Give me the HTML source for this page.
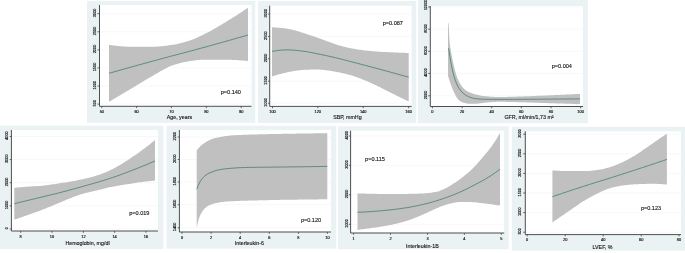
<!DOCTYPE html>
<html lang="en"><head><meta charset="utf-8"><title>Spline plots</title>
<style>html,body{margin:0;padding:0;background:#fff;}body{width:685px;height:253px;overflow:hidden;font-family:"Liberation Sans",sans-serif;}</style>
</head><body>
<svg width="685" height="253" viewBox="0 0 685 253" style="display:block">
<defs><filter id="soft" x="-20%" y="-40%" width="140%" height="180%"><feGaussianBlur stdDeviation="0.22"/></filter></defs>
<rect x="-10" y="-10" width="705" height="273" fill="#fff"/>
<g font-family="'Liberation Sans', sans-serif" fill="#111">
<rect x="87" y="1" width="168.20" height="121.80" fill="#eaf2f3"/>
<rect x="99.5" y="5" width="152.00" height="101.30" fill="#fff"/>
<line x1="99.5" x2="251.5" y1="13.7" y2="13.7" stroke="#f1f4f4" stroke-width="0.6"/>
<line x1="99.5" x2="251.5" y1="31.8" y2="31.8" stroke="#f1f4f4" stroke-width="0.6"/>
<line x1="99.5" x2="251.5" y1="49.9" y2="49.9" stroke="#f1f4f4" stroke-width="0.6"/>
<line x1="99.5" x2="251.5" y1="67.9" y2="67.9" stroke="#f1f4f4" stroke-width="0.6"/>
<line x1="99.5" x2="251.5" y1="86" y2="86" stroke="#f1f4f4" stroke-width="0.6"/>
<line x1="99.5" x2="251.5" y1="104.1" y2="104.1" stroke="#f1f4f4" stroke-width="0.6"/>
<path d="M109.00,44.90 L110.40,45.08 L111.81,45.25 L113.21,45.43 L114.62,45.60 L116.02,45.76 L117.42,45.92 L118.83,46.06 L120.23,46.20 L121.64,46.32 L123.04,46.43 L124.44,46.53 L125.85,46.60 L127.25,46.66 L128.66,46.69 L130.06,46.70 L131.46,46.70 L132.87,46.70 L134.27,46.70 L135.68,46.70 L137.08,46.70 L138.48,46.70 L139.89,46.70 L141.29,46.70 L142.70,46.70 L144.10,46.70 L145.51,46.70 L146.91,46.70 L148.31,46.70 L149.72,46.70 L151.12,46.70 L152.53,46.70 L153.93,46.70 L155.33,46.67 L156.74,46.62 L158.14,46.53 L159.55,46.43 L160.95,46.31 L162.35,46.16 L163.76,46.00 L165.16,45.83 L166.57,45.65 L167.97,45.46 L169.37,45.27 L170.78,45.07 L172.18,44.87 L173.59,44.66 L174.99,44.41 L176.39,44.14 L177.80,43.83 L179.20,43.51 L180.61,43.16 L182.01,42.79 L183.41,42.41 L184.82,42.01 L186.22,41.59 L187.63,41.17 L189.03,40.73 L190.43,40.26 L191.84,39.75 L193.24,39.20 L194.65,38.63 L196.05,38.02 L197.45,37.40 L198.86,36.75 L200.26,36.09 L201.67,35.42 L203.07,34.74 L204.47,34.06 L205.88,33.37 L207.28,32.66 L208.69,31.93 L210.09,31.17 L211.49,30.41 L212.90,29.62 L214.30,28.82 L215.71,28.01 L217.11,27.19 L218.52,26.37 L219.92,25.54 L221.32,24.70 L222.73,23.86 L224.13,23.02 L225.54,22.18 L226.94,21.33 L228.34,20.47 L229.75,19.60 L231.15,18.73 L232.56,17.85 L233.96,16.96 L235.36,16.07 L236.77,15.17 L238.17,14.26 L239.58,13.35 L240.98,12.42 L242.38,11.49 L243.79,10.56 L245.19,9.61 L246.60,8.66 L248.00,7.70 L248.00,60.90 L246.60,60.79 L245.19,60.69 L243.79,60.58 L242.38,60.48 L240.98,60.39 L239.58,60.29 L238.17,60.21 L236.77,60.12 L235.36,60.04 L233.96,59.97 L232.56,59.91 L231.15,59.85 L229.75,59.80 L228.34,59.76 L226.94,59.73 L225.54,59.71 L224.13,59.70 L222.73,59.70 L221.32,59.70 L219.92,59.70 L218.52,59.70 L217.11,59.70 L215.71,59.70 L214.30,59.70 L212.90,59.70 L211.49,59.70 L210.09,59.70 L208.69,59.70 L207.28,59.70 L205.88,59.70 L204.47,59.70 L203.07,59.73 L201.67,59.79 L200.26,59.87 L198.86,59.99 L197.45,60.12 L196.05,60.28 L194.65,60.45 L193.24,60.63 L191.84,60.83 L190.43,61.02 L189.03,61.22 L187.63,61.43 L186.22,61.67 L184.82,61.94 L183.41,62.24 L182.01,62.58 L180.61,62.93 L179.20,63.32 L177.80,63.72 L176.39,64.15 L174.99,64.60 L173.59,65.06 L172.18,65.54 L170.78,66.05 L169.37,66.62 L167.97,67.26 L166.57,67.94 L165.16,68.66 L163.76,69.42 L162.35,70.20 L160.95,71.01 L159.55,71.83 L158.14,72.65 L156.74,73.48 L155.33,74.30 L153.93,75.10 L152.53,75.89 L151.12,76.69 L149.72,77.50 L148.31,78.32 L146.91,79.16 L145.51,79.99 L144.10,80.84 L142.70,81.69 L141.29,82.54 L139.89,83.40 L138.48,84.26 L137.08,85.12 L135.68,85.98 L134.27,86.83 L132.87,87.68 L131.46,88.53 L130.06,89.36 L128.66,90.20 L127.25,91.03 L125.85,91.86 L124.44,92.70 L123.04,93.53 L121.64,94.36 L120.23,95.19 L118.83,96.02 L117.42,96.84 L116.02,97.67 L114.62,98.50 L113.21,99.33 L111.81,100.15 L110.40,100.98 L109.00,101.80Z" fill="#c0c0c0"/>
<path d="M109.00,73.30 L110.40,72.90 L111.81,72.50 L113.21,72.10 L114.62,71.70 L116.02,71.30 L117.42,70.90 L118.83,70.51 L120.23,70.11 L121.64,69.72 L123.04,69.32 L124.44,68.93 L125.85,68.53 L127.25,68.14 L128.66,67.75 L130.06,67.36 L131.46,66.97 L132.87,66.58 L134.27,66.19 L135.68,65.80 L137.08,65.41 L138.48,65.02 L139.89,64.64 L141.29,64.25 L142.70,63.86 L144.10,63.48 L145.51,63.09 L146.91,62.71 L148.31,62.33 L149.72,61.94 L151.12,61.56 L152.53,61.18 L153.93,60.79 L155.33,60.41 L156.74,60.03 L158.14,59.65 L159.55,59.27 L160.95,58.89 L162.35,58.51 L163.76,58.13 L165.16,57.76 L166.57,57.38 L167.97,57.01 L169.37,56.63 L170.78,56.26 L172.18,55.90 L173.59,55.53 L174.99,55.16 L176.39,54.80 L177.80,54.43 L179.20,54.06 L180.61,53.69 L182.01,53.33 L183.41,52.96 L184.82,52.59 L186.22,52.21 L187.63,51.84 L189.03,51.46 L190.43,51.08 L191.84,50.70 L193.24,50.32 L194.65,49.94 L196.05,49.55 L197.45,49.17 L198.86,48.79 L200.26,48.41 L201.67,48.02 L203.07,47.64 L204.47,47.25 L205.88,46.87 L207.28,46.48 L208.69,46.10 L210.09,45.71 L211.49,45.32 L212.90,44.93 L214.30,44.54 L215.71,44.15 L217.11,43.76 L218.52,43.37 L219.92,42.98 L221.32,42.59 L222.73,42.20 L224.13,41.80 L225.54,41.41 L226.94,41.01 L228.34,40.62 L229.75,40.22 L231.15,39.83 L232.56,39.43 L233.96,39.03 L235.36,38.63 L236.77,38.23 L238.17,37.83 L239.58,37.43 L240.98,37.02 L242.38,36.62 L243.79,36.22 L245.19,35.81 L246.60,35.41 L248.00,35.00" fill="none" stroke="#1a675a" stroke-width="0.62"/>
<path d="M99.5,5 V106.3 H251.5" fill="none" stroke="#444" stroke-width="0.95"/>
<line x1="97.40" x2="99.5" y1="13.7" y2="13.7" stroke="#444" stroke-width="0.8"/>
<text transform="translate(95.70,12.80) rotate(-90)" text-anchor="middle" font-size="3.9" stroke="#111" stroke-width="0.16">3000</text>
<line x1="97.40" x2="99.5" y1="31.8" y2="31.8" stroke="#444" stroke-width="0.8"/>
<text transform="translate(95.70,30.90) rotate(-90)" text-anchor="middle" font-size="3.9" stroke="#111" stroke-width="0.16">2500</text>
<line x1="97.40" x2="99.5" y1="49.9" y2="49.9" stroke="#444" stroke-width="0.8"/>
<text transform="translate(95.70,49.00) rotate(-90)" text-anchor="middle" font-size="3.9" stroke="#111" stroke-width="0.16">2000</text>
<line x1="97.40" x2="99.5" y1="67.9" y2="67.9" stroke="#444" stroke-width="0.8"/>
<text transform="translate(95.70,67.00) rotate(-90)" text-anchor="middle" font-size="3.9" stroke="#111" stroke-width="0.16">1500</text>
<line x1="97.40" x2="99.5" y1="86" y2="86" stroke="#444" stroke-width="0.8"/>
<text transform="translate(95.70,85.10) rotate(-90)" text-anchor="middle" font-size="3.9" stroke="#111" stroke-width="0.16">1000</text>
<line x1="97.40" x2="99.5" y1="104.1" y2="104.1" stroke="#444" stroke-width="0.8"/>
<text transform="translate(95.70,103.20) rotate(-90)" text-anchor="middle" font-size="3.9" stroke="#111" stroke-width="0.16">500</text>
<line x1="101.8" x2="101.8" y1="106.3" y2="108.10" stroke="#444" stroke-width="0.8"/>
<text x="101.8" y="112.90" text-anchor="middle" font-size="3.9" stroke="#111" stroke-width="0.16">50</text>
<line x1="136.6" x2="136.6" y1="106.3" y2="108.10" stroke="#444" stroke-width="0.8"/>
<text x="136.6" y="112.90" text-anchor="middle" font-size="3.9" stroke="#111" stroke-width="0.16">60</text>
<line x1="171.4" x2="171.4" y1="106.3" y2="108.10" stroke="#444" stroke-width="0.8"/>
<text x="171.4" y="112.90" text-anchor="middle" font-size="3.9" stroke="#111" stroke-width="0.16">70</text>
<line x1="206.3" x2="206.3" y1="106.3" y2="108.10" stroke="#444" stroke-width="0.8"/>
<text x="206.3" y="112.90" text-anchor="middle" font-size="3.9" stroke="#111" stroke-width="0.16">80</text>
<line x1="241.2" x2="241.2" y1="106.3" y2="108.10" stroke="#444" stroke-width="0.8"/>
<text x="241.2" y="112.90" text-anchor="middle" font-size="3.9" stroke="#111" stroke-width="0.16">90</text>
<text filter="url(#soft)" x="179.4" y="119" text-anchor="middle" font-size="5.3" stroke="#111" stroke-width="0.12">Age, years</text>
<text filter="url(#soft)" x="230.85" y="93.5" text-anchor="middle" font-size="5.55" stroke="#111" stroke-width="0.12">p=0.140</text>
</g>
<g font-family="'Liberation Sans', sans-serif" fill="#111">
<rect x="258" y="1" width="158.20" height="122.00" fill="#eaf2f3"/>
<rect x="269.7" y="5.7" width="141.90" height="100.70" fill="#fff"/>
<line x1="269.7" x2="411.6" y1="14" y2="14" stroke="#f1f4f4" stroke-width="0.6"/>
<line x1="269.7" x2="411.6" y1="36.5" y2="36.5" stroke="#f1f4f4" stroke-width="0.6"/>
<line x1="269.7" x2="411.6" y1="58.8" y2="58.8" stroke="#f1f4f4" stroke-width="0.6"/>
<line x1="269.7" x2="411.6" y1="81.2" y2="81.2" stroke="#f1f4f4" stroke-width="0.6"/>
<line x1="269.7" x2="411.6" y1="103.2" y2="103.2" stroke="#f1f4f4" stroke-width="0.6"/>
<path d="M272.00,27.30 L273.38,27.36 L274.76,27.44 L276.14,27.53 L277.52,27.64 L278.90,27.76 L280.28,27.89 L281.67,28.03 L283.05,28.18 L284.43,28.36 L285.81,28.57 L287.19,28.79 L288.57,29.03 L289.95,29.28 L291.33,29.56 L292.71,29.84 L294.09,30.15 L295.47,30.50 L296.85,30.88 L298.24,31.30 L299.62,31.74 L301.00,32.19 L302.38,32.64 L303.76,33.10 L305.14,33.54 L306.52,33.99 L307.90,34.45 L309.28,34.92 L310.66,35.39 L312.04,35.87 L313.42,36.35 L314.81,36.84 L316.19,37.32 L317.57,37.81 L318.95,38.31 L320.33,38.81 L321.71,39.32 L323.09,39.83 L324.47,40.33 L325.85,40.84 L327.23,41.33 L328.61,41.82 L329.99,42.31 L331.37,42.80 L332.76,43.30 L334.14,43.79 L335.52,44.26 L336.90,44.72 L338.28,45.15 L339.66,45.56 L341.04,45.94 L342.42,46.32 L343.80,46.67 L345.18,47.02 L346.56,47.35 L347.94,47.67 L349.33,47.97 L350.71,48.25 L352.09,48.51 L353.47,48.76 L354.85,49.00 L356.23,49.23 L357.61,49.45 L358.99,49.66 L360.37,49.86 L361.75,50.04 L363.13,50.22 L364.51,50.38 L365.89,50.54 L367.28,50.70 L368.66,50.85 L370.04,50.99 L371.42,51.12 L372.80,51.24 L374.18,51.35 L375.56,51.46 L376.94,51.55 L378.32,51.65 L379.70,51.73 L381.08,51.81 L382.46,51.89 L383.85,51.97 L385.23,52.04 L386.61,52.11 L387.99,52.17 L389.37,52.24 L390.75,52.30 L392.13,52.37 L393.51,52.43 L394.89,52.49 L396.27,52.55 L397.65,52.61 L399.03,52.67 L400.42,52.72 L401.80,52.77 L403.18,52.82 L404.56,52.87 L405.94,52.92 L407.32,52.96 L408.70,53.00 L408.70,101.50 L407.32,100.84 L405.94,100.17 L404.56,99.50 L403.18,98.83 L401.80,98.16 L400.42,97.48 L399.03,96.81 L397.65,96.13 L396.27,95.45 L394.89,94.77 L393.51,94.09 L392.13,93.40 L390.75,92.72 L389.37,92.03 L387.99,91.34 L386.61,90.65 L385.23,89.96 L383.85,89.25 L382.46,88.54 L381.08,87.82 L379.70,87.11 L378.32,86.41 L376.94,85.73 L375.56,85.06 L374.18,84.41 L372.80,83.78 L371.42,83.16 L370.04,82.54 L368.66,81.94 L367.28,81.35 L365.89,80.77 L364.51,80.21 L363.13,79.65 L361.75,79.10 L360.37,78.56 L358.99,78.01 L357.61,77.48 L356.23,76.97 L354.85,76.47 L353.47,76.01 L352.09,75.57 L350.71,75.17 L349.33,74.80 L347.94,74.44 L346.56,74.09 L345.18,73.77 L343.80,73.45 L342.42,73.15 L341.04,72.86 L339.66,72.57 L338.28,72.29 L336.90,72.01 L335.52,71.73 L334.14,71.46 L332.76,71.21 L331.37,70.98 L329.99,70.76 L328.61,70.57 L327.23,70.41 L325.85,70.24 L324.47,70.08 L323.09,69.92 L321.71,69.78 L320.33,69.66 L318.95,69.57 L317.57,69.52 L316.19,69.50 L314.81,69.51 L313.42,69.52 L312.04,69.55 L310.66,69.59 L309.28,69.63 L307.90,69.67 L306.52,69.73 L305.14,69.78 L303.76,69.85 L302.38,69.95 L301.00,70.08 L299.62,70.24 L298.24,70.42 L296.85,70.61 L295.47,70.82 L294.09,71.03 L292.71,71.24 L291.33,71.48 L289.95,71.73 L288.57,72.01 L287.19,72.31 L285.81,72.63 L284.43,72.95 L283.05,73.29 L281.67,73.63 L280.28,73.99 L278.90,74.36 L277.52,74.76 L276.14,75.17 L274.76,75.60 L273.38,76.04 L272.00,76.50Z" fill="#c0c0c0"/>
<path d="M272.00,51.40 L273.38,51.15 L274.76,50.93 L276.14,50.72 L277.52,50.54 L278.90,50.37 L280.28,50.23 L281.67,50.12 L283.05,50.02 L284.43,49.96 L285.81,49.91 L287.19,49.90 L288.57,49.91 L289.95,49.96 L291.33,50.02 L292.71,50.11 L294.09,50.22 L295.47,50.34 L296.85,50.48 L298.24,50.63 L299.62,50.78 L301.00,50.95 L302.38,51.12 L303.76,51.29 L305.14,51.46 L306.52,51.65 L307.90,51.88 L309.28,52.13 L310.66,52.41 L312.04,52.69 L313.42,52.98 L314.81,53.27 L316.19,53.56 L317.57,53.83 L318.95,54.11 L320.33,54.39 L321.71,54.68 L323.09,54.97 L324.47,55.26 L325.85,55.55 L327.23,55.85 L328.61,56.15 L329.99,56.46 L331.37,56.77 L332.76,57.08 L334.14,57.40 L335.52,57.72 L336.90,58.05 L338.28,58.39 L339.66,58.73 L341.04,59.08 L342.42,59.44 L343.80,59.79 L345.18,60.15 L346.56,60.51 L347.94,60.87 L349.33,61.24 L350.71,61.59 L352.09,61.95 L353.47,62.31 L354.85,62.66 L356.23,63.02 L357.61,63.38 L358.99,63.74 L360.37,64.10 L361.75,64.46 L363.13,64.82 L364.51,65.18 L365.89,65.54 L367.28,65.90 L368.66,66.27 L370.04,66.63 L371.42,67.00 L372.80,67.37 L374.18,67.73 L375.56,68.10 L376.94,68.47 L378.32,68.84 L379.70,69.22 L381.08,69.59 L382.46,69.96 L383.85,70.34 L385.23,70.71 L386.61,71.09 L387.99,71.46 L389.37,71.84 L390.75,72.22 L392.13,72.59 L393.51,72.97 L394.89,73.35 L396.27,73.73 L397.65,74.12 L399.03,74.50 L400.42,74.88 L401.80,75.27 L403.18,75.65 L404.56,76.04 L405.94,76.42 L407.32,76.81 L408.70,77.20" fill="none" stroke="#1a675a" stroke-width="0.62"/>
<path d="M269.7,5.7 V106.4 H411.6" fill="none" stroke="#444" stroke-width="0.95"/>
<line x1="268.00" x2="269.7" y1="14" y2="14" stroke="#444" stroke-width="0.8"/>
<text transform="translate(266.50,13.10) rotate(-90)" text-anchor="middle" font-size="3.9" stroke="#111" stroke-width="0.16">3000</text>
<line x1="268.00" x2="269.7" y1="36.5" y2="36.5" stroke="#444" stroke-width="0.8"/>
<text transform="translate(266.50,35.60) rotate(-90)" text-anchor="middle" font-size="3.9" stroke="#111" stroke-width="0.16">2500</text>
<line x1="268.00" x2="269.7" y1="58.8" y2="58.8" stroke="#444" stroke-width="0.8"/>
<text transform="translate(266.50,57.90) rotate(-90)" text-anchor="middle" font-size="3.9" stroke="#111" stroke-width="0.16">2000</text>
<line x1="268.00" x2="269.7" y1="81.2" y2="81.2" stroke="#444" stroke-width="0.8"/>
<text transform="translate(266.50,80.30) rotate(-90)" text-anchor="middle" font-size="3.9" stroke="#111" stroke-width="0.16">1500</text>
<line x1="268.00" x2="269.7" y1="103.2" y2="103.2" stroke="#444" stroke-width="0.8"/>
<text transform="translate(266.50,102.30) rotate(-90)" text-anchor="middle" font-size="3.9" stroke="#111" stroke-width="0.16">1000</text>
<line x1="272.5" x2="272.5" y1="106.4" y2="108.20" stroke="#444" stroke-width="0.8"/>
<text x="272.5" y="113.00" text-anchor="middle" font-size="3.9" stroke="#111" stroke-width="0.16">100</text>
<line x1="317.8" x2="317.8" y1="106.4" y2="108.20" stroke="#444" stroke-width="0.8"/>
<text x="317.8" y="113.00" text-anchor="middle" font-size="3.9" stroke="#111" stroke-width="0.16">120</text>
<line x1="363.2" x2="363.2" y1="106.4" y2="108.20" stroke="#444" stroke-width="0.8"/>
<text x="363.2" y="113.00" text-anchor="middle" font-size="3.9" stroke="#111" stroke-width="0.16">140</text>
<line x1="408.6" x2="408.6" y1="106.4" y2="108.20" stroke="#444" stroke-width="0.8"/>
<text x="408.6" y="113.00" text-anchor="middle" font-size="3.9" stroke="#111" stroke-width="0.16">160</text>
<text filter="url(#soft)" x="347.4" y="118.9" text-anchor="middle" font-size="5.3" stroke="#111" stroke-width="0.12">SBP, mmHg</text>
<text filter="url(#soft)" x="392.8" y="24.5" text-anchor="middle" font-size="5.55" stroke="#111" stroke-width="0.12">p=0.087</text>
</g>
<g font-family="'Liberation Sans', sans-serif" fill="#111">
<rect x="418" y="-6" width="169.80" height="129.30" fill="#eaf2f3"/>
<rect x="430.3" y="6" width="152.70" height="100.50" fill="#fff"/>
<line x1="430.3" x2="583" y1="7" y2="7" stroke="#f1f4f4" stroke-width="0.6"/>
<line x1="430.3" x2="583" y1="29.2" y2="29.2" stroke="#f1f4f4" stroke-width="0.6"/>
<line x1="430.3" x2="583" y1="51.3" y2="51.3" stroke="#f1f4f4" stroke-width="0.6"/>
<line x1="430.3" x2="583" y1="73.4" y2="73.4" stroke="#f1f4f4" stroke-width="0.6"/>
<line x1="430.3" x2="583" y1="95.8" y2="95.8" stroke="#f1f4f4" stroke-width="0.6"/>
<path d="M448.00,24.00 L448.50,22.20 L448.50,22.20 L449.61,42.07 L450.71,50.36 L451.82,56.05 L452.92,61.65 L454.03,66.67 L455.13,70.97 L456.24,74.71 L457.34,77.90 L458.45,80.50 L459.55,82.71 L460.66,84.54 L461.76,86.13 L462.87,87.55 L463.97,88.74 L465.08,89.67 L466.18,90.46 L467.29,91.15 L468.39,91.76 L469.50,92.29 L470.60,92.77 L471.71,93.20 L472.81,93.60 L473.92,93.97 L475.02,94.30 L476.13,94.59 L477.23,94.85 L478.34,95.09 L479.44,95.31 L480.55,95.52 L481.65,95.72 L482.76,95.89 L483.86,96.04 L484.97,96.16 L486.07,96.26 L487.18,96.36 L488.28,96.45 L489.39,96.54 L490.49,96.63 L491.60,96.70 L492.70,96.78 L493.81,96.84 L494.91,96.90 L496.02,96.94 L497.12,96.97 L498.23,96.99 L499.33,97.00 L500.44,97.00 L501.54,96.99 L502.65,96.98 L503.75,96.96 L504.86,96.94 L505.96,96.92 L507.07,96.90 L508.17,96.87 L509.28,96.84 L510.38,96.81 L511.49,96.77 L512.59,96.74 L513.70,96.70 L514.80,96.67 L515.91,96.63 L517.01,96.59 L518.12,96.56 L519.22,96.52 L520.33,96.49 L521.43,96.46 L522.54,96.42 L523.64,96.38 L524.75,96.35 L525.85,96.31 L526.96,96.27 L528.06,96.23 L529.17,96.18 L530.27,96.14 L531.38,96.10 L532.48,96.05 L533.59,96.01 L534.69,95.96 L535.80,95.92 L536.90,95.87 L538.01,95.82 L539.11,95.78 L540.22,95.73 L541.32,95.68 L542.43,95.63 L543.53,95.58 L544.64,95.53 L545.74,95.49 L546.85,95.44 L547.95,95.39 L549.06,95.34 L550.16,95.29 L551.27,95.25 L552.37,95.20 L553.48,95.15 L554.58,95.10 L555.69,95.05 L556.79,95.00 L557.90,94.95 L559.00,94.90 L560.11,94.85 L561.21,94.80 L562.32,94.75 L563.42,94.70 L564.53,94.65 L565.63,94.60 L566.74,94.54 L567.84,94.49 L568.95,94.44 L570.05,94.39 L571.16,94.33 L572.26,94.28 L573.37,94.23 L574.47,94.17 L575.58,94.12 L576.68,94.06 L577.79,94.01 L578.89,93.96 L580.00,93.90 L580.00,104.10 L578.89,104.07 L577.78,104.04 L576.67,104.01 L575.56,103.97 L574.45,103.94 L573.34,103.91 L572.24,103.88 L571.13,103.84 L570.02,103.81 L568.91,103.78 L567.80,103.75 L566.69,103.71 L565.58,103.68 L564.47,103.65 L563.36,103.61 L562.25,103.58 L561.14,103.55 L560.03,103.51 L558.92,103.48 L557.82,103.44 L556.71,103.41 L555.60,103.38 L554.49,103.34 L553.38,103.31 L552.27,103.27 L551.16,103.24 L550.05,103.20 L548.94,103.17 L547.83,103.13 L546.72,103.09 L545.61,103.05 L544.50,103.02 L543.39,102.98 L542.29,102.94 L541.18,102.90 L540.07,102.86 L538.96,102.82 L537.85,102.78 L536.74,102.73 L535.63,102.69 L534.52,102.65 L533.41,102.61 L532.30,102.58 L531.19,102.54 L530.08,102.50 L528.97,102.46 L527.87,102.43 L526.76,102.39 L525.65,102.36 L524.54,102.32 L523.43,102.29 L522.32,102.26 L521.21,102.23 L520.10,102.20 L518.99,102.18 L517.88,102.15 L516.77,102.12 L515.66,102.09 L514.55,102.06 L513.45,102.03 L512.34,102.00 L511.23,101.98 L510.12,101.95 L509.01,101.92 L507.90,101.90 L506.79,101.88 L505.68,101.86 L504.57,101.84 L503.46,101.83 L502.35,101.81 L501.24,101.81 L500.13,101.80 L499.03,101.80 L497.92,101.81 L496.81,101.84 L495.70,101.88 L494.59,101.93 L493.48,101.99 L492.37,102.06 L491.26,102.14 L490.15,102.22 L489.04,102.31 L487.93,102.40 L486.82,102.49 L485.71,102.58 L484.61,102.67 L483.50,102.81 L482.39,102.96 L481.28,103.13 L480.17,103.30 L479.06,103.45 L477.95,103.58 L476.84,103.67 L475.73,103.70 L474.62,103.70 L473.51,103.70 L472.40,103.70 L471.29,103.70 L470.18,103.70 L469.08,103.70 L467.97,103.67 L466.86,103.52 L465.75,103.30 L464.64,103.01 L463.53,102.70 L462.42,102.33 L461.31,101.83 L460.20,101.19 L459.09,100.39 L457.98,99.24 L456.87,97.69 L455.76,95.90 L454.66,93.73 L453.55,91.30 L452.44,88.65 L451.33,85.74 L450.22,82.68 L449.11,79.43 L448.00,76.00Z" fill="#c0c0c0"/>
<path d="M448.60,48.30 L449.93,56.99 L451.25,64.40 L452.58,70.86 L453.91,76.06 L455.24,80.23 L456.56,83.62 L457.89,86.44 L459.22,88.67 L460.55,90.46 L461.87,91.96 L463.20,93.20 L464.53,94.26 L465.85,95.21 L467.18,96.03 L468.51,96.68 L469.84,97.19 L471.16,97.66 L472.49,98.07 L473.82,98.39 L475.15,98.63 L476.47,98.78 L477.80,98.90 L479.13,99.01 L480.45,99.10 L481.78,99.18 L483.11,99.24 L484.44,99.28 L485.76,99.30 L487.09,99.32 L488.42,99.34 L489.75,99.35 L491.07,99.36 L492.40,99.37 L493.73,99.38 L495.05,99.39 L496.38,99.40 L497.71,99.40 L499.04,99.40 L500.36,99.40 L501.69,99.40 L503.02,99.40 L504.35,99.39 L505.67,99.39 L507.00,99.39 L508.33,99.38 L509.65,99.38 L510.98,99.37 L512.31,99.37 L513.64,99.36 L514.96,99.35 L516.29,99.35 L517.62,99.34 L518.95,99.33 L520.27,99.32 L521.60,99.31 L522.93,99.30 L524.25,99.29 L525.58,99.28 L526.91,99.27 L528.24,99.26 L529.56,99.25 L530.89,99.24 L532.22,99.23 L533.55,99.22 L534.87,99.21 L536.20,99.20 L537.53,99.19 L538.85,99.18 L540.18,99.17 L541.51,99.16 L542.84,99.15 L544.16,99.14 L545.49,99.13 L546.82,99.12 L548.15,99.11 L549.47,99.10 L550.80,99.09 L552.13,99.09 L553.45,99.08 L554.78,99.07 L556.11,99.06 L557.44,99.05 L558.76,99.04 L560.09,99.03 L561.42,99.03 L562.75,99.02 L564.07,99.01 L565.40,99.00 L566.73,98.99 L568.05,98.98 L569.38,98.97 L570.71,98.96 L572.04,98.95 L573.36,98.95 L574.69,98.94 L576.02,98.93 L577.35,98.92 L578.67,98.91 L580.00,98.90" fill="none" stroke="#1a675a" stroke-width="0.62"/>
<path d="M430.3,6 V106.5 H583" fill="none" stroke="#444" stroke-width="0.95"/>
<line x1="428.20" x2="430.3" y1="7" y2="7" stroke="#444" stroke-width="0.8"/>
<text transform="translate(426.50,4.90) rotate(-90)" text-anchor="middle" font-size="3.9" stroke="#111" stroke-width="0.16">10000</text>
<line x1="428.20" x2="430.3" y1="29.2" y2="29.2" stroke="#444" stroke-width="0.8"/>
<text transform="translate(426.50,28.30) rotate(-90)" text-anchor="middle" font-size="3.9" stroke="#111" stroke-width="0.16">8000</text>
<line x1="428.20" x2="430.3" y1="51.3" y2="51.3" stroke="#444" stroke-width="0.8"/>
<text transform="translate(426.50,50.40) rotate(-90)" text-anchor="middle" font-size="3.9" stroke="#111" stroke-width="0.16">6000</text>
<line x1="428.20" x2="430.3" y1="73.4" y2="73.4" stroke="#444" stroke-width="0.8"/>
<text transform="translate(426.50,72.50) rotate(-90)" text-anchor="middle" font-size="3.9" stroke="#111" stroke-width="0.16">4000</text>
<line x1="428.20" x2="430.3" y1="95.8" y2="95.8" stroke="#444" stroke-width="0.8"/>
<text transform="translate(426.50,94.90) rotate(-90)" text-anchor="middle" font-size="3.9" stroke="#111" stroke-width="0.16">2000</text>
<line x1="432.4" x2="432.4" y1="106.5" y2="108.30" stroke="#444" stroke-width="0.8"/>
<text x="432.4" y="113.10" text-anchor="middle" font-size="3.9" stroke="#111" stroke-width="0.16">0</text>
<line x1="462.1" x2="462.1" y1="106.5" y2="108.30" stroke="#444" stroke-width="0.8"/>
<text x="462.1" y="113.10" text-anchor="middle" font-size="3.9" stroke="#111" stroke-width="0.16">20</text>
<line x1="491.7" x2="491.7" y1="106.5" y2="108.30" stroke="#444" stroke-width="0.8"/>
<text x="491.7" y="113.10" text-anchor="middle" font-size="3.9" stroke="#111" stroke-width="0.16">40</text>
<line x1="521.3" x2="521.3" y1="106.5" y2="108.30" stroke="#444" stroke-width="0.8"/>
<text x="521.3" y="113.10" text-anchor="middle" font-size="3.9" stroke="#111" stroke-width="0.16">60</text>
<line x1="551" x2="551" y1="106.5" y2="108.30" stroke="#444" stroke-width="0.8"/>
<text x="551" y="113.10" text-anchor="middle" font-size="3.9" stroke="#111" stroke-width="0.16">80</text>
<line x1="580.6" x2="580.6" y1="106.5" y2="108.30" stroke="#444" stroke-width="0.8"/>
<text x="580.6" y="113.10" text-anchor="middle" font-size="3.9" stroke="#111" stroke-width="0.16">100</text>
<text filter="url(#soft)" x="529" y="118.9" text-anchor="middle" font-size="5.3" stroke="#111" stroke-width="0.12">GFR, ml/min/1,73 m²</text>
<text filter="url(#soft)" x="561.8" y="67.6" text-anchor="middle" font-size="5.55" stroke="#111" stroke-width="0.12">p=0.004</text>
</g>
<g font-family="'Liberation Sans', sans-serif" fill="#111">
<rect x="-6" y="125.7" width="169.30" height="123.10" fill="#eaf2f3"/>
<rect x="11.4" y="130" width="146.60" height="101.00" fill="#fff"/>
<line x1="11.4" x2="158" y1="136.5" y2="136.5" stroke="#f1f4f4" stroke-width="0.6"/>
<line x1="11.4" x2="158" y1="159.6" y2="159.6" stroke="#f1f4f4" stroke-width="0.6"/>
<line x1="11.4" x2="158" y1="182.7" y2="182.7" stroke="#f1f4f4" stroke-width="0.6"/>
<line x1="11.4" x2="158" y1="205.8" y2="205.8" stroke="#f1f4f4" stroke-width="0.6"/>
<line x1="11.4" x2="158" y1="229" y2="229" stroke="#f1f4f4" stroke-width="0.6"/>
<path d="M14.30,187.80 L15.72,187.67 L17.14,187.53 L18.56,187.40 L19.98,187.28 L21.41,187.16 L22.83,187.04 L24.25,186.92 L25.67,186.81 L27.09,186.70 L28.51,186.59 L29.93,186.49 L31.35,186.40 L32.78,186.32 L34.20,186.24 L35.62,186.16 L37.04,186.08 L38.46,185.99 L39.88,185.90 L41.30,185.79 L42.72,185.67 L44.15,185.53 L45.57,185.37 L46.99,185.19 L48.41,184.99 L49.83,184.79 L51.25,184.58 L52.67,184.36 L54.09,184.14 L55.52,183.93 L56.94,183.72 L58.36,183.51 L59.78,183.30 L61.20,183.09 L62.62,182.87 L64.04,182.65 L65.46,182.43 L66.88,182.20 L68.31,181.96 L69.73,181.72 L71.15,181.47 L72.57,181.21 L73.99,180.94 L75.41,180.67 L76.83,180.39 L78.25,180.10 L79.68,179.81 L81.10,179.51 L82.52,179.21 L83.94,178.91 L85.36,178.60 L86.78,178.28 L88.20,177.95 L89.62,177.60 L91.05,177.23 L92.47,176.84 L93.89,176.44 L95.31,176.02 L96.73,175.58 L98.15,175.12 L99.57,174.63 L100.99,174.11 L102.42,173.57 L103.84,173.00 L105.26,172.41 L106.68,171.80 L108.10,171.17 L109.52,170.52 L110.94,169.85 L112.36,169.14 L113.78,168.40 L115.21,167.63 L116.63,166.84 L118.05,166.03 L119.47,165.21 L120.89,164.38 L122.31,163.52 L123.73,162.64 L125.15,161.75 L126.58,160.84 L128.00,159.91 L129.42,158.98 L130.84,158.04 L132.26,157.09 L133.68,156.12 L135.10,155.13 L136.52,154.13 L137.95,153.13 L139.37,152.13 L140.79,151.11 L142.21,150.08 L143.63,149.03 L145.05,147.96 L146.47,146.87 L147.89,145.77 L149.32,144.65 L150.74,143.51 L152.16,142.36 L153.58,141.19 L155.00,140.00 L155.00,180.60 L153.58,180.72 L152.16,180.85 L150.74,180.99 L149.32,181.13 L147.89,181.29 L146.47,181.45 L145.05,181.62 L143.63,181.79 L142.21,181.97 L140.79,182.15 L139.37,182.34 L137.95,182.54 L136.52,182.75 L135.10,182.98 L133.68,183.22 L132.26,183.47 L130.84,183.71 L129.42,183.94 L128.00,184.14 L126.58,184.34 L125.15,184.53 L123.73,184.72 L122.31,184.92 L120.89,185.15 L119.47,185.38 L118.05,185.63 L116.63,185.88 L115.21,186.15 L113.78,186.43 L112.36,186.71 L110.94,187.00 L109.52,187.30 L108.10,187.62 L106.68,187.96 L105.26,188.31 L103.84,188.67 L102.42,189.04 L100.99,189.41 L99.57,189.77 L98.15,190.12 L96.73,190.46 L95.31,190.79 L93.89,191.11 L92.47,191.43 L91.05,191.75 L89.62,192.09 L88.20,192.43 L86.78,192.77 L85.36,193.12 L83.94,193.49 L82.52,193.88 L81.10,194.30 L79.68,194.76 L78.25,195.25 L76.83,195.75 L75.41,196.28 L73.99,196.82 L72.57,197.36 L71.15,197.91 L69.73,198.46 L68.31,199.02 L66.88,199.60 L65.46,200.19 L64.04,200.78 L62.62,201.38 L61.20,201.99 L59.78,202.59 L58.36,203.19 L56.94,203.78 L55.52,204.36 L54.09,204.95 L52.67,205.54 L51.25,206.13 L49.83,206.71 L48.41,207.30 L46.99,207.87 L45.57,208.45 L44.15,209.02 L42.72,209.57 L41.30,210.12 L39.88,210.67 L38.46,211.21 L37.04,211.75 L35.62,212.28 L34.20,212.81 L32.78,213.33 L31.35,213.85 L29.93,214.36 L28.51,214.86 L27.09,215.36 L25.67,215.85 L24.25,216.34 L22.83,216.82 L21.41,217.30 L19.98,217.77 L18.56,218.23 L17.14,218.70 L15.72,219.15 L14.30,219.60Z" fill="#c0c0c0"/>
<path d="M14.30,203.70 L15.72,203.36 L17.14,203.01 L18.56,202.67 L19.98,202.33 L21.41,201.98 L22.83,201.64 L24.25,201.29 L25.67,200.95 L27.09,200.60 L28.51,200.26 L29.93,199.92 L31.35,199.57 L32.78,199.23 L34.20,198.88 L35.62,198.54 L37.04,198.19 L38.46,197.85 L39.88,197.50 L41.30,197.16 L42.72,196.82 L44.15,196.48 L45.57,196.14 L46.99,195.80 L48.41,195.46 L49.83,195.12 L51.25,194.78 L52.67,194.43 L54.09,194.08 L55.52,193.73 L56.94,193.38 L58.36,193.02 L59.78,192.66 L61.20,192.29 L62.62,191.92 L64.04,191.55 L65.46,191.18 L66.88,190.80 L68.31,190.42 L69.73,190.04 L71.15,189.65 L72.57,189.26 L73.99,188.88 L75.41,188.48 L76.83,188.09 L78.25,187.70 L79.68,187.30 L81.10,186.90 L82.52,186.50 L83.94,186.10 L85.36,185.70 L86.78,185.30 L88.20,184.89 L89.62,184.49 L91.05,184.09 L92.47,183.68 L93.89,183.28 L95.31,182.87 L96.73,182.46 L98.15,182.05 L99.57,181.63 L100.99,181.21 L102.42,180.78 L103.84,180.35 L105.26,179.91 L106.68,179.47 L108.10,179.01 L109.52,178.56 L110.94,178.09 L112.36,177.61 L113.78,177.13 L115.21,176.64 L116.63,176.14 L118.05,175.63 L119.47,175.12 L120.89,174.60 L122.31,174.07 L123.73,173.54 L125.15,173.01 L126.58,172.47 L128.00,171.93 L129.42,171.39 L130.84,170.85 L132.26,170.30 L133.68,169.75 L135.10,169.20 L136.52,168.64 L137.95,168.07 L139.37,167.51 L140.79,166.94 L142.21,166.36 L143.63,165.78 L145.05,165.20 L146.47,164.61 L147.89,164.02 L149.32,163.42 L150.74,162.82 L152.16,162.22 L153.58,161.61 L155.00,161.00" fill="none" stroke="#1a675a" stroke-width="0.62"/>
<path d="M11.4,130 V231 H158" fill="none" stroke="#444" stroke-width="0.95"/>
<line x1="9.70" x2="11.4" y1="136.5" y2="136.5" stroke="#444" stroke-width="0.8"/>
<text transform="translate(8.40,135.60) rotate(-90)" text-anchor="middle" font-size="3.9" stroke="#111" stroke-width="0.16">4000</text>
<line x1="9.70" x2="11.4" y1="159.6" y2="159.6" stroke="#444" stroke-width="0.8"/>
<text transform="translate(8.40,158.70) rotate(-90)" text-anchor="middle" font-size="3.9" stroke="#111" stroke-width="0.16">3000</text>
<line x1="9.70" x2="11.4" y1="182.7" y2="182.7" stroke="#444" stroke-width="0.8"/>
<text transform="translate(8.40,181.80) rotate(-90)" text-anchor="middle" font-size="3.9" stroke="#111" stroke-width="0.16">2000</text>
<line x1="9.70" x2="11.4" y1="205.8" y2="205.8" stroke="#444" stroke-width="0.8"/>
<text transform="translate(8.40,204.90) rotate(-90)" text-anchor="middle" font-size="3.9" stroke="#111" stroke-width="0.16">1000</text>
<line x1="9.70" x2="11.4" y1="229" y2="229" stroke="#444" stroke-width="0.8"/>
<text transform="translate(8.40,228.10) rotate(-90)" text-anchor="middle" font-size="3.9" stroke="#111" stroke-width="0.16">0</text>
<line x1="20.7" x2="20.7" y1="231" y2="232.80" stroke="#444" stroke-width="0.8"/>
<text x="20.7" y="237.60" text-anchor="middle" font-size="3.9" stroke="#111" stroke-width="0.16">8</text>
<line x1="52" x2="52" y1="231" y2="232.80" stroke="#444" stroke-width="0.8"/>
<text x="52" y="237.60" text-anchor="middle" font-size="3.9" stroke="#111" stroke-width="0.16">10</text>
<line x1="83.4" x2="83.4" y1="231" y2="232.80" stroke="#444" stroke-width="0.8"/>
<text x="83.4" y="237.60" text-anchor="middle" font-size="3.9" stroke="#111" stroke-width="0.16">12</text>
<line x1="114.6" x2="114.6" y1="231" y2="232.80" stroke="#444" stroke-width="0.8"/>
<text x="114.6" y="237.60" text-anchor="middle" font-size="3.9" stroke="#111" stroke-width="0.16">14</text>
<line x1="145.9" x2="145.9" y1="231" y2="232.80" stroke="#444" stroke-width="0.8"/>
<text x="145.9" y="237.60" text-anchor="middle" font-size="3.9" stroke="#111" stroke-width="0.16">16</text>
<text filter="url(#soft)" x="87.5" y="244.7" text-anchor="middle" font-size="5.3" stroke="#111" stroke-width="0.12">Hemoglobin, mg/dl</text>
<text filter="url(#soft)" x="139.35" y="214.9" text-anchor="middle" font-size="5.55" stroke="#111" stroke-width="0.12">p=0.019</text>
</g>
<g font-family="'Liberation Sans', sans-serif" fill="#111">
<rect x="166.6" y="125.7" width="169.60" height="122.90" fill="#eaf2f3"/>
<rect x="179.4" y="130" width="151.60" height="102.00" fill="#fff"/>
<line x1="179.4" x2="331" y1="137" y2="137" stroke="#f1f4f4" stroke-width="0.6"/>
<line x1="179.4" x2="331" y1="159.5" y2="159.5" stroke="#f1f4f4" stroke-width="0.6"/>
<line x1="179.4" x2="331" y1="182" y2="182" stroke="#f1f4f4" stroke-width="0.6"/>
<line x1="179.4" x2="331" y1="204.7" y2="204.7" stroke="#f1f4f4" stroke-width="0.6"/>
<line x1="179.4" x2="331" y1="227.8" y2="227.8" stroke="#f1f4f4" stroke-width="0.6"/>
<path d="M196.70,150.50 L198.02,148.80 L199.34,147.27 L200.66,145.94 L201.98,144.80 L203.30,143.79 L204.62,142.89 L205.93,142.08 L207.25,141.30 L208.57,140.58 L209.89,139.91 L211.21,139.33 L212.53,138.86 L213.85,138.45 L215.17,138.08 L216.49,137.74 L217.81,137.44 L219.13,137.16 L220.45,136.91 L221.76,136.69 L223.08,136.48 L224.40,136.28 L225.72,136.09 L227.04,135.92 L228.36,135.76 L229.68,135.61 L231.00,135.48 L232.32,135.37 L233.64,135.29 L234.96,135.21 L236.28,135.13 L237.59,135.07 L238.91,135.00 L240.23,134.94 L241.55,134.88 L242.87,134.83 L244.19,134.78 L245.51,134.73 L246.83,134.69 L248.15,134.65 L249.47,134.61 L250.79,134.57 L252.11,134.53 L253.43,134.49 L254.74,134.46 L256.06,134.42 L257.38,134.38 L258.70,134.35 L260.02,134.32 L261.34,134.28 L262.66,134.25 L263.98,134.22 L265.30,134.19 L266.62,134.16 L267.94,134.13 L269.26,134.11 L270.57,134.08 L271.89,134.05 L273.21,134.03 L274.53,134.00 L275.85,133.98 L277.17,133.95 L278.49,133.93 L279.81,133.90 L281.13,133.88 L282.45,133.86 L283.77,133.83 L285.09,133.81 L286.41,133.79 L287.72,133.77 L289.04,133.75 L290.36,133.72 L291.68,133.70 L293.00,133.68 L294.32,133.66 L295.64,133.64 L296.96,133.62 L298.28,133.60 L299.60,133.57 L300.92,133.55 L302.24,133.53 L303.55,133.51 L304.87,133.49 L306.19,133.47 L307.51,133.46 L308.83,133.44 L310.15,133.42 L311.47,133.40 L312.79,133.38 L314.11,133.36 L315.43,133.35 L316.75,133.33 L318.07,133.31 L319.38,133.29 L320.70,133.28 L322.02,133.26 L323.34,133.25 L324.66,133.23 L325.98,133.21 L327.30,133.20 L327.30,199.30 L325.98,199.31 L324.66,199.32 L323.34,199.33 L322.02,199.34 L320.70,199.35 L319.38,199.36 L318.07,199.38 L316.75,199.39 L315.43,199.40 L314.11,199.42 L312.79,199.43 L311.47,199.44 L310.15,199.46 L308.83,199.47 L307.51,199.49 L306.19,199.51 L304.87,199.52 L303.55,199.54 L302.24,199.56 L300.92,199.57 L299.60,199.59 L298.28,199.61 L296.96,199.63 L295.64,199.65 L294.32,199.66 L293.00,199.68 L291.68,199.70 L290.36,199.72 L289.04,199.74 L287.72,199.76 L286.41,199.78 L285.09,199.80 L283.77,199.83 L282.45,199.85 L281.13,199.87 L279.81,199.90 L278.49,199.92 L277.17,199.94 L275.85,199.97 L274.53,200.00 L273.21,200.02 L271.89,200.05 L270.57,200.08 L269.26,200.10 L267.94,200.13 L266.62,200.16 L265.30,200.19 L263.98,200.22 L262.66,200.25 L261.34,200.29 L260.02,200.32 L258.70,200.35 L257.38,200.38 L256.06,200.42 L254.74,200.45 L253.43,200.49 L252.11,200.52 L250.79,200.55 L249.47,200.59 L248.15,200.62 L246.83,200.66 L245.51,200.70 L244.19,200.74 L242.87,200.78 L241.55,200.82 L240.23,200.87 L238.91,200.92 L237.59,200.97 L236.28,201.02 L234.96,201.08 L233.64,201.14 L232.32,201.20 L231.00,201.27 L229.68,201.34 L228.36,201.42 L227.04,201.51 L225.72,201.62 L224.40,201.75 L223.08,201.90 L221.76,202.06 L220.45,202.25 L219.13,202.44 L217.81,202.66 L216.49,202.90 L215.17,203.18 L213.85,203.53 L212.53,203.94 L211.21,204.41 L209.89,204.95 L208.57,205.61 L207.25,206.44 L205.93,207.43 L204.62,208.60 L203.30,210.02 L201.98,211.94 L200.66,214.28 L199.34,217.22 L198.02,221.44 L196.70,228.20Z" fill="#c0c0c0"/>
<path d="M196.80,189.30 L198.12,185.74 L199.44,182.93 L200.75,180.62 L202.07,178.80 L203.39,177.27 L204.71,175.99 L206.03,174.97 L207.35,174.13 L208.66,173.40 L209.98,172.76 L211.30,172.20 L212.62,171.69 L213.94,171.21 L215.25,170.78 L216.57,170.39 L217.89,170.07 L219.21,169.79 L220.53,169.54 L221.85,169.31 L223.16,169.11 L224.48,168.93 L225.80,168.77 L227.12,168.64 L228.44,168.52 L229.75,168.40 L231.07,168.29 L232.39,168.18 L233.71,168.08 L235.03,167.98 L236.35,167.90 L237.66,167.82 L238.98,167.74 L240.30,167.67 L241.62,167.61 L242.94,167.56 L244.25,167.52 L245.57,167.49 L246.89,167.46 L248.21,167.43 L249.53,167.41 L250.85,167.38 L252.16,167.36 L253.48,167.35 L254.80,167.33 L256.12,167.31 L257.44,167.29 L258.75,167.27 L260.07,167.26 L261.39,167.24 L262.71,167.22 L264.03,167.21 L265.35,167.19 L266.66,167.18 L267.98,167.16 L269.30,167.15 L270.62,167.13 L271.94,167.12 L273.25,167.10 L274.57,167.09 L275.89,167.08 L277.21,167.06 L278.53,167.05 L279.85,167.04 L281.16,167.02 L282.48,167.01 L283.80,166.99 L285.12,166.98 L286.44,166.96 L287.75,166.95 L289.07,166.93 L290.39,166.92 L291.71,166.90 L293.03,166.88 L294.35,166.87 L295.66,166.85 L296.98,166.83 L298.30,166.82 L299.62,166.80 L300.94,166.78 L302.25,166.76 L303.57,166.75 L304.89,166.73 L306.21,166.71 L307.53,166.69 L308.85,166.67 L310.16,166.65 L311.48,166.64 L312.80,166.62 L314.12,166.60 L315.44,166.58 L316.75,166.56 L318.07,166.54 L319.39,166.52 L320.71,166.50 L322.03,166.48 L323.35,166.46 L324.66,166.44 L325.98,166.42 L327.30,166.40" fill="none" stroke="#1a675a" stroke-width="0.62"/>
<path d="M179.4,130 V232 H331" fill="none" stroke="#444" stroke-width="0.95"/>
<line x1="177.70" x2="179.4" y1="137" y2="137" stroke="#444" stroke-width="0.8"/>
<text transform="translate(176.20,136.10) rotate(-90)" text-anchor="middle" font-size="3.9" stroke="#111" stroke-width="0.16">2200</text>
<line x1="177.70" x2="179.4" y1="159.5" y2="159.5" stroke="#444" stroke-width="0.8"/>
<text transform="translate(176.20,158.60) rotate(-90)" text-anchor="middle" font-size="3.9" stroke="#111" stroke-width="0.16">2000</text>
<line x1="177.70" x2="179.4" y1="182" y2="182" stroke="#444" stroke-width="0.8"/>
<text transform="translate(176.20,181.10) rotate(-90)" text-anchor="middle" font-size="3.9" stroke="#111" stroke-width="0.16">1800</text>
<line x1="177.70" x2="179.4" y1="204.7" y2="204.7" stroke="#444" stroke-width="0.8"/>
<text transform="translate(176.20,203.80) rotate(-90)" text-anchor="middle" font-size="3.9" stroke="#111" stroke-width="0.16">1600</text>
<line x1="177.70" x2="179.4" y1="227.8" y2="227.8" stroke="#444" stroke-width="0.8"/>
<text transform="translate(176.20,226.90) rotate(-90)" text-anchor="middle" font-size="3.9" stroke="#111" stroke-width="0.16">1400</text>
<line x1="182" x2="182" y1="232" y2="233.80" stroke="#444" stroke-width="0.8"/>
<text x="182" y="238.60" text-anchor="middle" font-size="3.9" stroke="#111" stroke-width="0.16">0</text>
<line x1="211.1" x2="211.1" y1="232" y2="233.80" stroke="#444" stroke-width="0.8"/>
<text x="211.1" y="238.60" text-anchor="middle" font-size="3.9" stroke="#111" stroke-width="0.16">2</text>
<line x1="240.2" x2="240.2" y1="232" y2="233.80" stroke="#444" stroke-width="0.8"/>
<text x="240.2" y="238.60" text-anchor="middle" font-size="3.9" stroke="#111" stroke-width="0.16">4</text>
<line x1="269.3" x2="269.3" y1="232" y2="233.80" stroke="#444" stroke-width="0.8"/>
<text x="269.3" y="238.60" text-anchor="middle" font-size="3.9" stroke="#111" stroke-width="0.16">6</text>
<line x1="298.4" x2="298.4" y1="232" y2="233.80" stroke="#444" stroke-width="0.8"/>
<text x="298.4" y="238.60" text-anchor="middle" font-size="3.9" stroke="#111" stroke-width="0.16">8</text>
<line x1="327.4" x2="327.4" y1="232" y2="233.80" stroke="#444" stroke-width="0.8"/>
<text x="327.4" y="238.60" text-anchor="middle" font-size="3.9" stroke="#111" stroke-width="0.16">10</text>
<text filter="url(#soft)" x="249.4" y="245.4" text-anchor="middle" font-size="5.3" stroke="#111" stroke-width="0.12">Interleukin-6</text>
<text filter="url(#soft)" x="311" y="221.5" text-anchor="middle" font-size="5.55" stroke="#111" stroke-width="0.12">p=0.120</text>
</g>
<g font-family="'Liberation Sans', sans-serif" fill="#111">
<rect x="338" y="126.3" width="170.70" height="122.90" fill="#eaf2f3"/>
<rect x="350.6" y="130.7" width="153.60" height="102.30" fill="#fff"/>
<line x1="350.6" x2="504.2" y1="136" y2="136" stroke="#f1f4f4" stroke-width="0.6"/>
<line x1="350.6" x2="504.2" y1="165.3" y2="165.3" stroke="#f1f4f4" stroke-width="0.6"/>
<line x1="350.6" x2="504.2" y1="194.8" y2="194.8" stroke="#f1f4f4" stroke-width="0.6"/>
<line x1="350.6" x2="504.2" y1="224.3" y2="224.3" stroke="#f1f4f4" stroke-width="0.6"/>
<path d="M357.50,193.40 L358.94,193.44 L360.38,193.49 L361.82,193.53 L363.26,193.57 L364.70,193.61 L366.14,193.65 L367.58,193.69 L369.02,193.73 L370.45,193.76 L371.89,193.79 L373.33,193.82 L374.77,193.84 L376.21,193.86 L377.65,193.88 L379.09,193.89 L380.53,193.90 L381.97,193.90 L383.41,193.90 L384.85,193.90 L386.29,193.90 L387.73,193.90 L389.17,193.90 L390.61,193.90 L392.05,193.90 L393.48,193.90 L394.92,193.90 L396.36,193.90 L397.80,193.90 L399.24,193.90 L400.68,193.90 L402.12,193.90 L403.56,193.90 L405.00,193.90 L406.44,193.90 L407.88,193.89 L409.32,193.87 L410.76,193.85 L412.20,193.82 L413.64,193.79 L415.08,193.75 L416.52,193.70 L417.95,193.65 L419.39,193.60 L420.83,193.54 L422.27,193.48 L423.71,193.42 L425.15,193.34 L426.59,193.24 L428.03,193.11 L429.47,192.96 L430.91,192.78 L432.35,192.58 L433.79,192.35 L435.23,192.10 L436.67,191.82 L438.11,191.42 L439.55,190.92 L440.98,190.35 L442.42,189.72 L443.86,189.07 L445.30,188.41 L446.74,187.68 L448.18,186.88 L449.62,186.02 L451.06,185.14 L452.50,184.25 L453.94,183.36 L455.38,182.44 L456.82,181.49 L458.26,180.50 L459.70,179.46 L461.14,178.36 L462.58,177.20 L464.02,176.02 L465.45,174.84 L466.89,173.65 L468.33,172.43 L469.77,171.18 L471.21,169.89 L472.65,168.53 L474.09,167.10 L475.53,165.58 L476.97,163.98 L478.41,162.33 L479.85,160.64 L481.29,158.93 L482.73,157.23 L484.17,155.54 L485.61,153.85 L487.05,152.14 L488.48,150.38 L489.92,148.55 L491.36,146.64 L492.80,144.62 L494.24,142.48 L495.68,140.25 L497.12,137.91 L498.56,135.50 L500.00,133.00 L500.00,205.60 L498.56,205.37 L497.12,205.14 L495.68,204.92 L494.24,204.71 L492.80,204.50 L491.36,204.30 L489.92,204.10 L488.48,203.92 L487.05,203.73 L485.61,203.56 L484.17,203.39 L482.73,203.23 L481.29,203.06 L479.85,202.88 L478.41,202.70 L476.97,202.53 L475.53,202.37 L474.09,202.24 L472.65,202.15 L471.21,202.10 L469.77,202.10 L468.33,202.10 L466.89,202.10 L465.45,202.10 L464.02,202.10 L462.58,202.10 L461.14,202.10 L459.70,202.10 L458.26,202.12 L456.82,202.25 L455.38,202.46 L453.94,202.75 L452.50,203.07 L451.06,203.41 L449.62,203.74 L448.18,204.10 L446.74,204.52 L445.30,204.98 L443.86,205.47 L442.42,205.99 L440.98,206.52 L439.55,207.07 L438.11,207.66 L436.67,208.28 L435.23,208.93 L433.79,209.60 L432.35,210.28 L430.91,210.95 L429.47,211.60 L428.03,212.24 L426.59,212.88 L425.15,213.53 L423.71,214.18 L422.27,214.82 L420.83,215.45 L419.39,216.06 L417.95,216.66 L416.52,217.23 L415.08,217.79 L413.64,218.34 L412.20,218.88 L410.76,219.41 L409.32,219.92 L407.88,220.41 L406.44,220.88 L405.00,221.32 L403.56,221.75 L402.12,222.16 L400.68,222.56 L399.24,222.95 L397.80,223.32 L396.36,223.68 L394.92,224.02 L393.48,224.35 L392.05,224.67 L390.61,224.98 L389.17,225.28 L387.73,225.57 L386.29,225.85 L384.85,226.11 L383.41,226.36 L381.97,226.60 L380.53,226.83 L379.09,227.04 L377.65,227.24 L376.21,227.44 L374.77,227.63 L373.33,227.81 L371.89,228.00 L370.45,228.19 L369.02,228.39 L367.58,228.58 L366.14,228.77 L364.70,228.96 L363.26,229.15 L361.82,229.34 L360.38,229.53 L358.94,229.71 L357.50,229.90Z" fill="#c0c0c0"/>
<path d="M357.50,212.30 L358.94,212.24 L360.38,212.18 L361.82,212.11 L363.26,212.04 L364.70,211.96 L366.14,211.87 L367.58,211.79 L369.02,211.69 L370.45,211.60 L371.89,211.50 L373.33,211.39 L374.77,211.28 L376.21,211.17 L377.65,211.06 L379.09,210.94 L380.53,210.82 L381.97,210.70 L383.41,210.58 L384.85,210.45 L386.29,210.31 L387.73,210.16 L389.17,210.01 L390.61,209.85 L392.05,209.69 L393.48,209.52 L394.92,209.34 L396.36,209.16 L397.80,208.97 L399.24,208.78 L400.68,208.58 L402.12,208.38 L403.56,208.17 L405.00,207.96 L406.44,207.74 L407.88,207.51 L409.32,207.26 L410.76,207.01 L412.20,206.74 L413.64,206.47 L415.08,206.18 L416.52,205.89 L417.95,205.58 L419.39,205.27 L420.83,204.95 L422.27,204.62 L423.71,204.29 L425.15,203.95 L426.59,203.59 L428.03,203.22 L429.47,202.83 L430.91,202.43 L432.35,202.02 L433.79,201.60 L435.23,201.16 L436.67,200.72 L438.11,200.27 L439.55,199.81 L440.98,199.34 L442.42,198.87 L443.86,198.38 L445.30,197.88 L446.74,197.37 L448.18,196.84 L449.62,196.31 L451.06,195.76 L452.50,195.21 L453.94,194.64 L455.38,194.06 L456.82,193.46 L458.26,192.86 L459.70,192.24 L461.14,191.60 L462.58,190.94 L464.02,190.26 L465.45,189.56 L466.89,188.85 L468.33,188.12 L469.77,187.38 L471.21,186.64 L472.65,185.88 L474.09,185.13 L475.53,184.37 L476.97,183.62 L478.41,182.86 L479.85,182.11 L481.29,181.34 L482.73,180.57 L484.17,179.77 L485.61,178.95 L487.05,178.09 L488.48,177.21 L489.92,176.30 L491.36,175.36 L492.80,174.40 L494.24,173.41 L495.68,172.39 L497.12,171.35 L498.56,170.29 L500.00,169.20" fill="none" stroke="#1a675a" stroke-width="0.62"/>
<path d="M350.6,130.7 V233 H504.2" fill="none" stroke="#444" stroke-width="0.95"/>
<line x1="348.90" x2="350.6" y1="136" y2="136" stroke="#444" stroke-width="0.8"/>
<text transform="translate(347.60,135.10) rotate(-90)" text-anchor="middle" font-size="3.9" stroke="#111" stroke-width="0.16">4000</text>
<line x1="348.90" x2="350.6" y1="165.3" y2="165.3" stroke="#444" stroke-width="0.8"/>
<text transform="translate(347.60,164.40) rotate(-90)" text-anchor="middle" font-size="3.9" stroke="#111" stroke-width="0.16">3000</text>
<line x1="348.90" x2="350.6" y1="194.8" y2="194.8" stroke="#444" stroke-width="0.8"/>
<text transform="translate(347.60,193.90) rotate(-90)" text-anchor="middle" font-size="3.9" stroke="#111" stroke-width="0.16">2000</text>
<line x1="348.90" x2="350.6" y1="224.3" y2="224.3" stroke="#444" stroke-width="0.8"/>
<text transform="translate(347.60,223.40) rotate(-90)" text-anchor="middle" font-size="3.9" stroke="#111" stroke-width="0.16">1000</text>
<line x1="353.6" x2="353.6" y1="233" y2="234.80" stroke="#444" stroke-width="0.8"/>
<text x="353.6" y="239.60" text-anchor="middle" font-size="3.9" stroke="#111" stroke-width="0.16">1</text>
<line x1="390.5" x2="390.5" y1="233" y2="234.80" stroke="#444" stroke-width="0.8"/>
<text x="390.5" y="239.60" text-anchor="middle" font-size="3.9" stroke="#111" stroke-width="0.16">2</text>
<line x1="427.5" x2="427.5" y1="233" y2="234.80" stroke="#444" stroke-width="0.8"/>
<text x="427.5" y="239.60" text-anchor="middle" font-size="3.9" stroke="#111" stroke-width="0.16">3</text>
<line x1="464.4" x2="464.4" y1="233" y2="234.80" stroke="#444" stroke-width="0.8"/>
<text x="464.4" y="239.60" text-anchor="middle" font-size="3.9" stroke="#111" stroke-width="0.16">4</text>
<line x1="501.3" x2="501.3" y1="233" y2="234.80" stroke="#444" stroke-width="0.8"/>
<text x="501.3" y="239.60" text-anchor="middle" font-size="3.9" stroke="#111" stroke-width="0.16">5</text>
<text filter="url(#soft)" x="422.4" y="247.6" text-anchor="middle" font-size="5.3" stroke="#111" stroke-width="0.12">Interleukin-1B</text>
<text filter="url(#soft)" x="375" y="160.8" text-anchor="middle" font-size="5.55" stroke="#111" stroke-width="0.12">p=0.115</text>
</g>
<g font-family="'Liberation Sans', sans-serif" fill="#111">
<rect x="511.8" y="126.8" width="179.20" height="123.90" fill="#eaf2f3"/>
<rect x="525.3" y="131.3" width="155.70" height="103.30" fill="#fff"/>
<line x1="525.3" x2="681" y1="134.2" y2="134.2" stroke="#f1f4f4" stroke-width="0.6"/>
<line x1="525.3" x2="681" y1="153.8" y2="153.8" stroke="#f1f4f4" stroke-width="0.6"/>
<line x1="525.3" x2="681" y1="173.4" y2="173.4" stroke="#f1f4f4" stroke-width="0.6"/>
<line x1="525.3" x2="681" y1="193" y2="193" stroke="#f1f4f4" stroke-width="0.6"/>
<line x1="525.3" x2="681" y1="212.6" y2="212.6" stroke="#f1f4f4" stroke-width="0.6"/>
<line x1="525.3" x2="681" y1="232.2" y2="232.2" stroke="#f1f4f4" stroke-width="0.6"/>
<path d="M552.40,170.40 L553.56,170.47 L554.71,170.55 L555.87,170.62 L557.03,170.69 L558.18,170.76 L559.34,170.82 L560.50,170.88 L561.65,170.93 L562.81,170.98 L563.97,171.02 L565.12,171.05 L566.28,171.08 L567.44,171.09 L568.59,171.10 L569.75,171.10 L570.91,171.10 L572.06,171.10 L573.22,171.10 L574.37,171.10 L575.53,171.10 L576.69,171.10 L577.84,171.10 L579.00,171.10 L580.16,171.10 L581.31,171.10 L582.47,171.10 L583.63,171.10 L584.78,171.10 L585.94,171.09 L587.10,171.06 L588.25,171.00 L589.41,170.91 L590.57,170.81 L591.72,170.69 L592.88,170.56 L594.04,170.41 L595.19,170.26 L596.35,170.09 L597.51,169.93 L598.66,169.76 L599.82,169.59 L600.98,169.39 L602.13,169.17 L603.29,168.92 L604.45,168.65 L605.60,168.37 L606.76,168.06 L607.92,167.74 L609.07,167.41 L610.23,167.07 L611.38,166.72 L612.54,166.34 L613.70,165.94 L614.85,165.50 L616.01,165.05 L617.17,164.57 L618.32,164.08 L619.48,163.57 L620.64,163.05 L621.79,162.53 L622.95,161.99 L624.11,161.43 L625.26,160.86 L626.42,160.26 L627.58,159.64 L628.73,159.00 L629.89,158.35 L631.05,157.69 L632.20,157.02 L633.36,156.34 L634.52,155.65 L635.67,154.94 L636.83,154.22 L637.99,153.47 L639.14,152.71 L640.30,151.94 L641.46,151.16 L642.61,150.37 L643.77,149.58 L644.93,148.80 L646.08,148.01 L647.24,147.21 L648.39,146.41 L649.55,145.60 L650.71,144.78 L651.86,143.96 L653.02,143.13 L654.18,142.32 L655.33,141.50 L656.49,140.70 L657.65,139.90 L658.80,139.11 L659.96,138.33 L661.12,137.54 L662.27,136.77 L663.43,135.99 L664.59,135.23 L665.74,134.46 L666.90,133.70 L666.90,184.50 L665.74,184.40 L664.59,184.31 L663.43,184.23 L662.27,184.15 L661.12,184.07 L659.96,184.01 L658.80,183.95 L657.65,183.90 L656.49,183.86 L655.33,183.83 L654.18,183.81 L653.02,183.80 L651.86,183.80 L650.71,183.81 L649.55,183.82 L648.39,183.84 L647.24,183.86 L646.08,183.88 L644.93,183.91 L643.77,183.94 L642.61,183.98 L641.46,184.01 L640.30,184.05 L639.14,184.09 L637.99,184.13 L636.83,184.18 L635.67,184.24 L634.52,184.31 L633.36,184.39 L632.20,184.48 L631.05,184.58 L629.89,184.68 L628.73,184.79 L627.58,184.91 L626.42,185.04 L625.26,185.17 L624.11,185.30 L622.95,185.44 L621.79,185.59 L620.64,185.77 L619.48,185.96 L618.32,186.18 L617.17,186.41 L616.01,186.67 L614.85,186.94 L613.70,187.23 L612.54,187.53 L611.38,187.84 L610.23,188.16 L609.07,188.53 L607.92,188.93 L606.76,189.36 L605.60,189.82 L604.45,190.30 L603.29,190.80 L602.13,191.32 L600.98,191.84 L599.82,192.37 L598.66,192.90 L597.51,193.45 L596.35,194.01 L595.19,194.59 L594.04,195.18 L592.88,195.79 L591.72,196.42 L590.57,197.05 L589.41,197.70 L588.25,198.36 L587.10,199.03 L585.94,199.70 L584.78,200.39 L583.63,201.09 L582.47,201.82 L581.31,202.56 L580.16,203.32 L579.00,204.09 L577.84,204.88 L576.69,205.67 L575.53,206.47 L574.37,207.28 L573.22,208.08 L572.06,208.89 L570.91,209.69 L569.75,210.48 L568.59,211.27 L567.44,212.06 L566.28,212.85 L565.12,213.64 L563.97,214.43 L562.81,215.22 L561.65,216.01 L560.50,216.80 L559.34,217.60 L558.18,218.40 L557.03,219.19 L555.87,219.99 L554.71,220.79 L553.56,221.60 L552.40,222.40Z" fill="#c0c0c0"/>
<path d="M552.40,196.70 L553.56,196.30 L554.71,195.91 L555.87,195.51 L557.03,195.12 L558.18,194.73 L559.34,194.34 L560.50,193.94 L561.65,193.55 L562.81,193.17 L563.97,192.78 L565.12,192.39 L566.28,192.01 L567.44,191.62 L568.59,191.24 L569.75,190.85 L570.91,190.47 L572.06,190.09 L573.22,189.71 L574.37,189.33 L575.53,188.95 L576.69,188.57 L577.84,188.19 L579.00,187.82 L580.16,187.44 L581.31,187.07 L582.47,186.69 L583.63,186.32 L584.78,185.94 L585.94,185.57 L587.10,185.20 L588.25,184.83 L589.41,184.46 L590.57,184.09 L591.72,183.72 L592.88,183.35 L594.04,182.99 L595.19,182.63 L596.35,182.27 L597.51,181.91 L598.66,181.55 L599.82,181.20 L600.98,180.84 L602.13,180.49 L603.29,180.13 L604.45,179.78 L605.60,179.42 L606.76,179.07 L607.92,178.71 L609.07,178.35 L610.23,177.98 L611.38,177.61 L612.54,177.25 L613.70,176.88 L614.85,176.51 L616.01,176.14 L617.17,175.77 L618.32,175.40 L619.48,175.03 L620.64,174.66 L621.79,174.29 L622.95,173.92 L624.11,173.55 L625.26,173.18 L626.42,172.81 L627.58,172.43 L628.73,172.06 L629.89,171.68 L631.05,171.31 L632.20,170.93 L633.36,170.56 L634.52,170.18 L635.67,169.81 L636.83,169.43 L637.99,169.05 L639.14,168.67 L640.30,168.29 L641.46,167.91 L642.61,167.53 L643.77,167.15 L644.93,166.77 L646.08,166.39 L647.24,166.01 L648.39,165.62 L649.55,165.24 L650.71,164.86 L651.86,164.47 L653.02,164.08 L654.18,163.70 L655.33,163.31 L656.49,162.92 L657.65,162.53 L658.80,162.15 L659.96,161.76 L661.12,161.36 L662.27,160.97 L663.43,160.58 L664.59,160.19 L665.74,159.79 L666.90,159.40" fill="none" stroke="#1a675a" stroke-width="0.62"/>
<path d="M525.3,131.3 V234.6 H681" fill="none" stroke="#444" stroke-width="0.95"/>
<line x1="523.20" x2="525.3" y1="134.2" y2="134.2" stroke="#444" stroke-width="0.8"/>
<text transform="translate(521.20,133.30) rotate(-90)" text-anchor="middle" font-size="3.9" stroke="#111" stroke-width="0.16">3000</text>
<line x1="523.20" x2="525.3" y1="153.8" y2="153.8" stroke="#444" stroke-width="0.8"/>
<text transform="translate(521.20,152.90) rotate(-90)" text-anchor="middle" font-size="3.9" stroke="#111" stroke-width="0.16">2500</text>
<line x1="523.20" x2="525.3" y1="173.4" y2="173.4" stroke="#444" stroke-width="0.8"/>
<text transform="translate(521.20,172.50) rotate(-90)" text-anchor="middle" font-size="3.9" stroke="#111" stroke-width="0.16">2000</text>
<line x1="523.20" x2="525.3" y1="193" y2="193" stroke="#444" stroke-width="0.8"/>
<text transform="translate(521.20,192.10) rotate(-90)" text-anchor="middle" font-size="3.9" stroke="#111" stroke-width="0.16">1500</text>
<line x1="523.20" x2="525.3" y1="212.6" y2="212.6" stroke="#444" stroke-width="0.8"/>
<text transform="translate(521.20,211.70) rotate(-90)" text-anchor="middle" font-size="3.9" stroke="#111" stroke-width="0.16">1000</text>
<line x1="523.20" x2="525.3" y1="232.2" y2="232.2" stroke="#444" stroke-width="0.8"/>
<text transform="translate(521.20,231.30) rotate(-90)" text-anchor="middle" font-size="3.9" stroke="#111" stroke-width="0.16">500</text>
<line x1="527.2" x2="527.2" y1="234.6" y2="236.40" stroke="#444" stroke-width="0.8"/>
<text x="527.2" y="241.20" text-anchor="middle" font-size="3.9" stroke="#111" stroke-width="0.16">0</text>
<line x1="565.2" x2="565.2" y1="234.6" y2="236.40" stroke="#444" stroke-width="0.8"/>
<text x="565.2" y="241.20" text-anchor="middle" font-size="3.9" stroke="#111" stroke-width="0.16">20</text>
<line x1="603.2" x2="603.2" y1="234.6" y2="236.40" stroke="#444" stroke-width="0.8"/>
<text x="603.2" y="241.20" text-anchor="middle" font-size="3.9" stroke="#111" stroke-width="0.16">40</text>
<line x1="641.2" x2="641.2" y1="234.6" y2="236.40" stroke="#444" stroke-width="0.8"/>
<text x="641.2" y="241.20" text-anchor="middle" font-size="3.9" stroke="#111" stroke-width="0.16">60</text>
<line x1="679" x2="679" y1="234.6" y2="236.40" stroke="#444" stroke-width="0.8"/>
<text x="679" y="241.20" text-anchor="middle" font-size="3.9" stroke="#111" stroke-width="0.16">80</text>
<text filter="url(#soft)" x="602.5" y="248.6" text-anchor="middle" font-size="5.3" stroke="#111" stroke-width="0.12">LVEF, %</text>
<text filter="url(#soft)" x="651" y="209.5" text-anchor="middle" font-size="5.55" stroke="#111" stroke-width="0.12">p=0.123</text>
</g>
</svg>
</body></html>
